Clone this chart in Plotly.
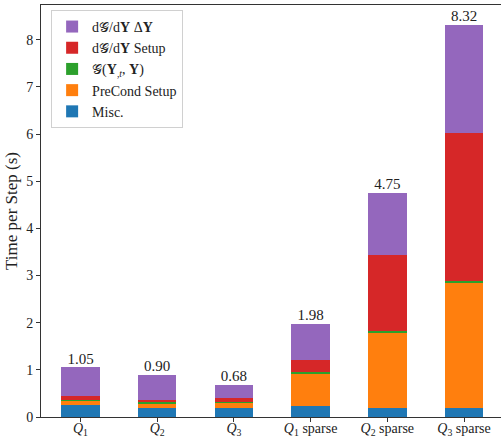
import plotly.graph_objects as go

categories = ["<i>Q</i><sub>1</sub>", "<i>Q</i><sub>2</sub>", "<i>Q</i><sub>3</sub>",
              "<i>Q</i><sub>1</sub> sparse", "<i>Q</i><sub>2</sub> sparse", "<i>Q</i><sub>3</sub> sparse"]
misc = [0.25, 0.19, 0.19, 0.23, 0.19, 0.19]
precond_setup = [0.09, 0.10, 0.11, 0.70, 1.60, 2.67]
g_eval = [0.02, 0.03, 0.02, 0.03, 0.04, 0.03]
dgdy_setup = [0.08, 0.04, 0.08, 0.24, 1.61, 3.14]
dgdy_dy = [0.61, 0.54, 0.28, 0.78, 1.31, 2.29]

series = [
    ("Misc.", misc, "#1f77b4"),
    ("PreCond Setup", precond_setup, "#ff7f0e"),
    ("𝒢(<b>Y</b><sub>,<i>t</i></sub>, <b>Y</b>)", g_eval, "#2ca02c"),
    ("d𝒢/d<b>Y</b> Setup", dgdy_setup, "#d62728"),
    ("d𝒢/d<b>Y</b> Δ<b>Y</b>", dgdy_dy, "#9467bd"),
]

xpos = list(range(len(categories)))
totals = [round(sum(v), 2) for v in zip(*[s[1] for s in series])]

FONT = "Liberation Serif"
fig = go.Figure()
for name, vals, col in series:
    fig.add_trace(go.Bar(x=xpos, y=vals, name=name, width=0.5,
                         marker=dict(color=col, line=dict(width=0))))

fig.add_trace(go.Scatter(x=xpos, y=totals, mode="text",
                         text=[f"{t:.2f}" for t in totals],
                         textposition="top center",
                         textfont=dict(family=FONT, size=15, color="#222"),
                         showlegend=False, hoverinfo="skip", cliponaxis=False))

fig.update_layout(
    width=501, height=438,
    margin=dict(l=41, r=0, t=5, b=21, autoexpand=False),
    barmode="stack",
    plot_bgcolor="white", paper_bgcolor="white",
    font=dict(family=FONT, size=15, color="#222"),
    legend=dict(x=0.022, y=0.988, xanchor="left", yanchor="top",
                traceorder="reversed", bgcolor="rgba(255,255,255,0.8)",
                bordercolor="#d0d0d0", borderwidth=1,
                font=dict(family=FONT, size=14), tracegroupgap=0,
                itemwidth=30),
    xaxis=dict(range=[-0.515, 5.482], tickmode="array", tickvals=xpos,
               ticktext=categories, showline=True, mirror=True,
               linecolor="#333", linewidth=1, ticks="outside", ticklen=4,
               tickcolor="#333", showgrid=False, zeroline=False,
               automargin=False, ticklabelstandoff=-6,
               tickfont=dict(family=FONT, size=14)),
    yaxis=dict(range=[0, 8.736], tickmode="array", tickvals=list(range(9)),
               showline=True, linecolor="#333", linewidth=1, ticks="outside",
               ticklen=4, tickcolor="#333", showgrid=False, zeroline=False,
               automargin=False,
               title=dict(text="Time per Step (s)", standoff=4,
                          font=dict(family=FONT, size=17)),
               tickfont=dict(family=FONT, size=14)),
)

fig.write_html("out.html", config={"displayModeBar": False},
               post_script="document.body.style.margin='0';document.body.style.padding='0';window.dispatchEvent(new Event('resize'));")
